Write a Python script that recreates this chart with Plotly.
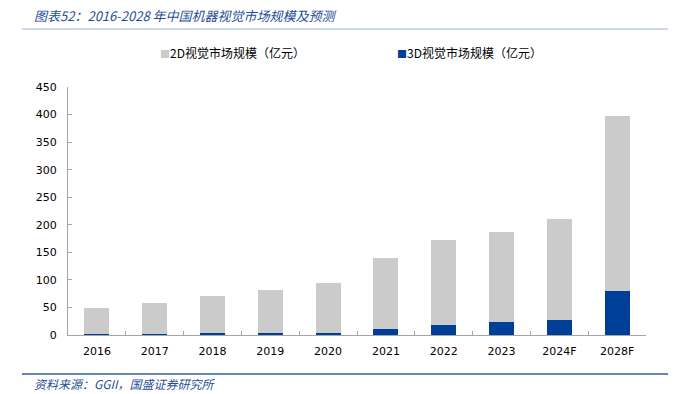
import plotly.graph_objects as go

years = ["2016", "2017", "2018", "2019", "2020", "2021", "2022", "2023", "2024F", "2028F"]
total = [48.5, 57.5, 71, 82, 95, 140, 172, 187, 210, 397]
v3d = [1, 1.8, 2.8, 3.2, 4.3, 10, 18, 23.5, 28, 80]
v2d = [round(t - d, 1) for t, d in zip(total, v3d)]

c2d = "#CBCBCB"
c3d = "#003F98"
cjk = "Noto Sans CJK SC"
num = "DejaVu Sans"

fig = go.Figure()
fig.add_bar(x=years, y=v3d, name="3D视觉市场规模（亿元）", marker=dict(color=c3d, line=dict(width=0)))
fig.add_bar(x=years, y=v2d, name="2D视觉市场规模（亿元）", marker=dict(color=c2d, line=dict(width=0)))

fig.update_layout(
    width=683, height=394,
    barmode="stack", bargap=0.57,
    showlegend=False,
    plot_bgcolor="white", paper_bgcolor="white",
    margin=dict(l=68, r=37, t=87, b=59),
    xaxis=dict(
        type="category", showline=True, linecolor="#A6A6A6", linewidth=1,
        ticks="inside", ticklen=4, tickcolor="#A6A6A6", tickson="boundaries",
        tickfont=dict(family=num, size=11, color="#000000"),
        ticklabelstandoff=6, showgrid=False,
    ),
    yaxis=dict(
        range=[0, 450], dtick=50, showline=True, linecolor="#A6A6A6", linewidth=1,
        ticks="inside", ticklen=4, tickcolor="#A6A6A6",
        tickfont=dict(family=num, size=11, color="#000000"),
        ticklabelstandoff=8, showgrid=False, zeroline=False,
    ),
)

# title and source
fig.add_annotation(
    xref="paper", yref="paper", x=(32 - 68) / 578, y=(394 - 59 - 15) / 248,
    xanchor="left", yanchor="middle", showarrow=False,
    text="<i>图表52：2016-2028 年中国机器视觉市场规模及预测</i>",
    font=dict(family=cjk, size=13, color="#1F4E99"),
)
fig.add_annotation(
    xref="paper", yref="paper", x=(32 - 68) / 578, y=(394 - 59 - 383) / 248,
    xanchor="left", yanchor="middle", showarrow=False,
    text="<i>资料来源：GGII，国盛证券研究所</i>",
    font=dict(family=cjk, size=12, color="#1F4E99"),
)
# divider lines
fig.add_shape(type="line", xref="paper", yref="paper",
              x0=(22 - 68) / 578, x1=(668 - 68) / 578,
              y0=(335 - 29) / 248, y1=(335 - 29) / 248,
              line=dict(color="#9DB3D6", width=1))
fig.add_shape(type="line", xref="paper", yref="paper",
              x0=(22 - 68) / 578, x1=(668 - 68) / 578,
              y0=(335 - 374) / 248, y1=(335 - 374) / 248,
              line=dict(color="#2F5E9A", width=1.5))

# legend
fig.add_annotation(
    xref="paper", yref="paper", x=(158 - 68) / 578, y=(335 - 52) / 248,
    xanchor="left", yanchor="middle", showarrow=False,
    text=f"<span style='color:{c2d};font-size:10px'>■</span>2D视觉市场规模（亿元）",
    font=dict(family=cjk, size=12, color="#000000"),
)
fig.add_annotation(
    xref="paper", yref="paper", x=(395 - 68) / 578, y=(335 - 52) / 248,
    xanchor="left", yanchor="middle", showarrow=False,
    text=f"<span style='color:{c3d};font-size:10px'>■</span>3D视觉市场规模（亿元）",
    font=dict(family=cjk, size=12, color="#000000"),
)

fig.write_html("out.html", config={"displayModeBar": False},
               post_script="document.body.style.margin='0';document.body.style.padding='0';")
